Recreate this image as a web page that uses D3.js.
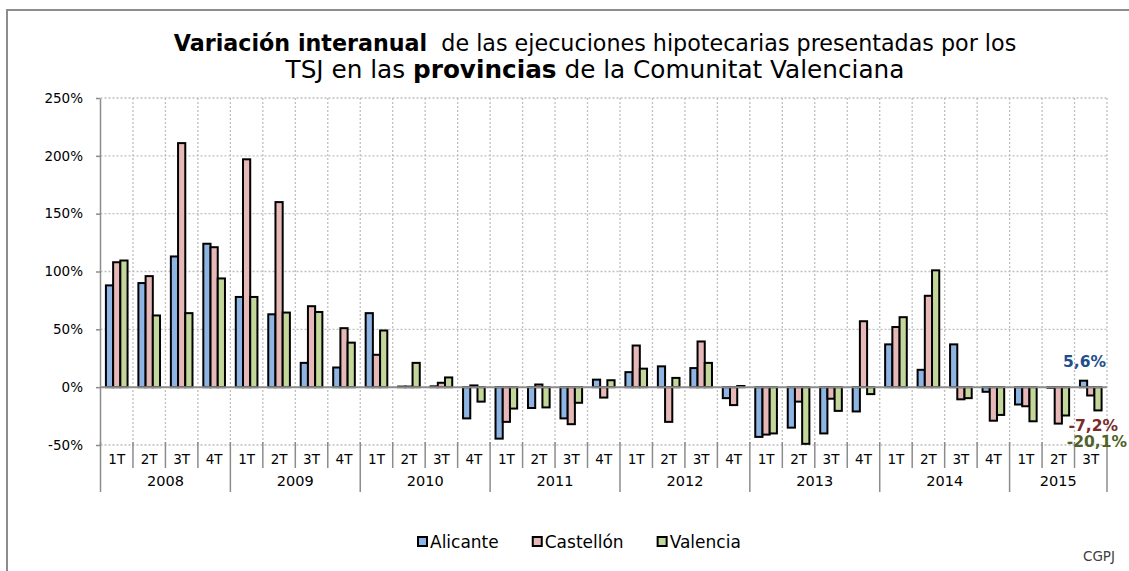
<!DOCTYPE html>
<html>
<head>
<meta charset="utf-8">
<script src="https://cdn.jsdelivr.net/npm/d3@7"></script>
<style>
  body { margin: 0; background: #fff; }
  svg { display: block; }
  text { font-family: "DejaVu Sans", "Noto Sans", sans-serif; }
</style>
</head>
<body>
<svg id="chart" width="1129" height="571"></svg>
<script>
// data
const years = ["2008", "2009", "2010", "2011", "2012", "2013", "2014", "2015"];
const quarters = ["1T", "2T", "3T", "4T"];
const quartersPerYear = [4, 4, 4, 4, 4, 4, 4, 3];
const seriesNames = ["Alicante", "Castellón", "Valencia"];
const seriesColors = ["#8db4e2", "#e6b8b7", "#c4d79b"];

const alicante = [88, 90, 113, 124, 78, 63, 21, 17, 64, 0.5, 0.7, -27,
  -44.5, -18, -27, 6.5, 13, 18, 16.5, -9.5, -43, -35, -40, -21,
  37, 15, 37, -4, -15, -0.5, 5.6];
const castellon = [108, 96, 211, 121, 197, 160, 70, 51, 28, 0.5, 3.8, 1.5,
  -30, 2.3, -32, -9, 36, -30, 39.5, -15.5, -41, -12.5, -10, 57,
  52, 79, -10.5, -29, -16.5, -31.5, -7.2];
const valencia = [109.5, 62, 64, 94, 78, 64.5, 65, 38.5, 49, 21, 8.4, -12.5,
  -18.5, -17.5, -13.5, 6, 16, 8, 21, 1, -40, -49, -20.5, -6,
  60.5, 101, -9.5, -24, -29.5, -24.5, -20.1];

const yTicks = [-50, 0, 50, 100, 150, 200, 250];
const lastLabels = ["5,6%", "-7,2%", "-20,1%"];
const lastColors = ["#1f4e8c", "#7b2a2a", "#4f6228"];

// periods
const periods = [];
years.forEach((yr, i) => {
  quarters.slice(0, quartersPerYear[i]).forEach((q) => periods.push({ id: yr + "-" + q, year: yr, q }));
});
const values = [alicante, castellon, valencia];

const svg = d3.select("#chart");
const plot = { left: 100.5, right: 1107, top: 98, bottom: 445 };

// scale a text's font size so it spans the reference width
function fitWidth(t, w, size) {
  const cur = t.node().getComputedTextLength();
  t.attr("font-size", size * w / cur);
}

// outer frame (continues beyond the picture on right and bottom)
svg.append("path")
  .attr("d", "M7,580V10H1140")
  .attr("fill", "none")
  .attr("stroke", "#8c8c8c")
  .attr("stroke-width", 2);

const x = d3.scaleBand()
  .domain(periods.map((p) => p.id))
  .range([plot.left, plot.right]);
const y = d3.scaleLinear().domain([-50, 250]).range([plot.bottom, plot.top]);

const step = x.step();
const groupW = step * 3 / 4.5;
const xs = d3.scaleBand()
  .domain(seriesNames)
  .range([(step - groupW) / 2, (step + groupW) / 2]);

// grid
const grid = svg.append("g").attr("stroke", "#bfbfbf").attr("stroke-dasharray", "2,2").attr("stroke-width", 1.3);
grid.selectAll(".h").data(yTicks.filter((d) => d !== 0)).join("line")
  .attr("x1", plot.left).attr("x2", plot.right)
  .attr("y1", (d) => y(d)).attr("y2", (d) => y(d));
grid.selectAll(".v").data(periods.map((p) => x(p.id) + step))
  .join("line")
  .attr("x1", (d) => d).attr("x2", (d) => d)
  .attr("y1", y(250)).attr("y2", y(-50));

// bars
const groups = svg.append("g").selectAll("g").data(periods).join("g")
  .attr("transform", (p) => `translate(${x(p.id)},0)`);
groups.selectAll("rect")
  .data((p, i) => seriesNames.map((s, k) => ({ s, k, v: values[k][i] })))
  .join("rect")
  .attr("x", (d) => xs(d.s))
  .attr("width", xs.bandwidth())
  .attr("y", (d) => y(Math.max(0, d.v)))
  .attr("height", (d) => Math.abs(y(d.v) - y(0)))
  .attr("fill", (d) => seriesColors[d.k])
  .attr("stroke", "#000")
  .attr("stroke-width", 2);

// zero line
svg.append("line")
  .attr("x1", plot.left).attr("x2", plot.right)
  .attr("y1", y(0)).attr("y2", y(0))
  .attr("stroke", "#8c8c8c").attr("stroke-width", 2);

// y axis
const yAxisG = svg.append("g")
  .attr("transform", `translate(${plot.left - 0.5},0)`)
  .call(d3.axisLeft(y).tickValues(yTicks).tickFormat((d) => d + "%").tickSize(4).tickSizeOuter(0).tickPadding(13));
yAxisG.select(".domain").attr("stroke", "#8c8c8c").attr("stroke-width", 1.5);
yAxisG.selectAll(".tick line").attr("stroke", "#8c8c8c").attr("stroke-width", 1.5);
yAxisG.selectAll(".tick text").attr("font-size", 13.5).attr("fill", "#000")
  .style("font-family", "'DejaVu Sans', sans-serif");

// x axis: quarter + year levels
const xAxisG = svg.append("g");
xAxisG.selectAll(".qsep").data(periods.slice(1).filter((p) => p.q !== "1T"))
  .join("line")
  .attr("x1", (p) => x(p.id)).attr("x2", (p) => x(p.id))
  .attr("y1", plot.bottom - 3).attr("y2", plot.bottom + 23)
  .attr("stroke", "#8c8c8c").attr("stroke-width", 1.5);
const yearEdges = years.map((yr) => x(periods.find((p) => p.year === yr).id)).concat([plot.right]);
xAxisG.selectAll(".ysep").data(yearEdges).join("line")
  .attr("x1", (d) => d).attr("x2", (d) => d)
  .attr("y1", plot.bottom - 3).attr("y2", plot.bottom + 47)
  .attr("stroke", "#8c8c8c").attr("stroke-width", 1.5);
xAxisG.selectAll(".ql").data(periods).join("text")
  .attr("x", (p) => x(p.id) + step / 2)
  .attr("y", plot.bottom + 19)
  .attr("text-anchor", "middle")
  .attr("font-size", 13.5)
  .text((p) => p.q);
xAxisG.selectAll(".yl").data(years).join("text")
  .attr("x", (yr, i) => (yearEdges[i] + yearEdges[i + 1]) / 2)
  .attr("y", plot.bottom + 41)
  .attr("text-anchor", "middle")
  .attr("font-size", 14.5)
  .text((yr) => yr);

// labels on last period
const lastP = periods[periods.length - 1];
const lastX = x(lastP.id);
const n = periods.length - 1;
svg.append("text")
  .attr("x", lastX + xs("Alicante") + xs.bandwidth() / 2 + 1)
  .attr("y", y(values[0][n]) - 14)
  .attr("text-anchor", "middle")
  .attr("font-size", 15.5).attr("font-weight", 700)
  .attr("fill", lastColors[0])
  .text(lastLabels[0]);
svg.append("text")
  .attr("x", plot.right + 11)
  .attr("y", y(values[1][n]) + 36)
  .attr("text-anchor", "end")
  .attr("font-size", 15.5).attr("font-weight", 700)
  .attr("fill", lastColors[1])
  .text(lastLabels[1]);
svg.append("text")
  .attr("x", plot.right + 20)
  .attr("y", y(values[2][n]) + 37)
  .attr("text-anchor", "end")
  .attr("font-size", 15.5).attr("font-weight", 700)
  .attr("fill", lastColors[2])
  .text(lastLabels[2]);

// title
const title = svg.append("g").attr("text-anchor", "middle");
const t1 = title.append("text").attr("x", 595).attr("y", 51).attr("font-size", 20);
t1.append("tspan").attr("font-weight", 700).text("Variación interanual");
t1.append("tspan").text("\u00a0 de las ejecuciones hipotecarias presentadas por los");
const t2 = title.append("text").attr("x", 595).attr("y", 78).attr("font-size", 20);
t2.append("tspan").text("TSJ en las ");
t2.append("tspan").attr("font-weight", 700).text("provincias");
t2.append("tspan").text(" de la Comunitat Valenciana");
fitWidth(t1, 843, 20);
fitWidth(t2, 619, 20);

// legend
const legend = svg.append("g");
let lx = 418;
seriesNames.forEach((s, k) => {
  legend.append("rect")
    .attr("x", lx).attr("y", 537).attr("width", 9).attr("height", 9)
    .attr("fill", seriesColors[k]).attr("stroke", "#000").attr("stroke-width", 2);
  const tx = legend.append("text")
    .attr("x", lx + 12).attr("y", 548)
    .attr("font-size", 17)
    .text(s);
  lx += 12 + tx.node().getComputedTextLength() + 34;
});

svg.append("text")
  .attr("x", 1115).attr("y", 561)
  .attr("text-anchor", "end")
  .attr("font-size", 13.5).attr("fill", "#404040")
  .text("CGPJ");
</script>
</body>
</html>
